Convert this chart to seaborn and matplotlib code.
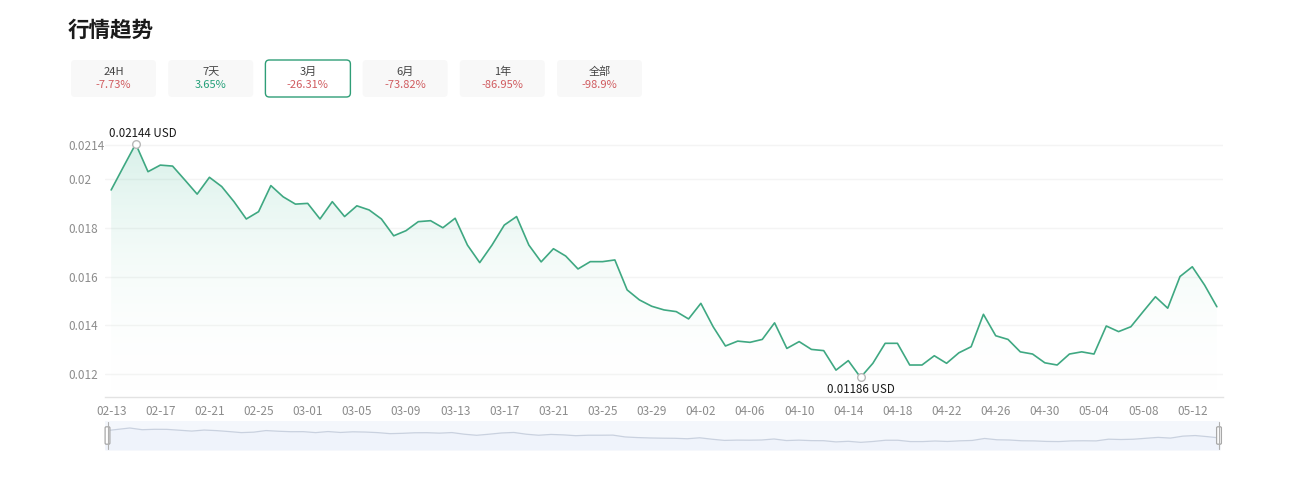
import numpy as np
import pandas as pd
import matplotlib
matplotlib.use("Agg")
import matplotlib.pyplot as plt
import seaborn as sns
from matplotlib.patches import FancyBboxPatch
from matplotlib.colors import LinearSegmentedColormap

# ---------------- data ----------------
start_date = "2025-02-13"
prices = [
    0.01955, 0.0205, 0.02144, 0.0203, 0.02057, 0.02053, 0.01996, 0.01938, 0.02007, 0.01969,
    0.01907, 0.01836, 0.01866, 0.01973, 0.01927, 0.01897, 0.0190, 0.01836, 0.01907, 0.01846,
    0.0189, 0.01873, 0.01836, 0.01767, 0.01788, 0.01825, 0.01829, 0.0180, 0.01839, 0.01729,
    0.01657, 0.01729, 0.01811, 0.01846, 0.01729, 0.0166, 0.01714, 0.01684, 0.01631, 0.01661,
    0.01661, 0.01668, 0.01545, 0.01504, 0.01478, 0.01463, 0.01456, 0.01426, 0.0149, 0.01394,
    0.01315, 0.01335, 0.0133, 0.01342, 0.0141, 0.01305, 0.01333, 0.01301, 0.01296, 0.01216,
    0.01255, 0.01186, 0.01244, 0.01326, 0.01326, 0.01237, 0.01237, 0.01275, 0.01244, 0.01287,
    0.01312, 0.01445, 0.01357, 0.01342, 0.01291, 0.01282, 0.01246, 0.01237, 0.01282, 0.01291,
    0.01282, 0.01397, 0.01374, 0.01394, 0.01456, 0.01517, 0.0147, 0.0160, 0.0164, 0.01565,
    0.01476,
]
periods = ["24H", "7天", "3月", "6月", "1年", "全部"]
changes = ["-7.73%", "3.65%", "-26.31%", "-73.82%", "-86.95%", "-98.9%"]
active_period = "3月"
title = "行情趋势"
unit = "USD"
y_ticks = [0.012, 0.014, 0.016, 0.018, 0.02, 0.0214]
y_tick_labels = ["0.012", "0.014", "0.016", "0.018", "0.02", "0.0214"]
label_step = 4

dates = pd.date_range(start_date, periods=len(prices), freq="D")
df = pd.DataFrame({"idx": np.arange(len(prices)), "price": prices,
                   "label": dates.strftime("%m-%d")})

# ---------------- style ----------------
sns.set_theme(style="white")
plt.rcParams["font.family"] = ["Noto Sans CJK SC", "DejaVu Sans"]

W, H = 1300, 492
fig = plt.figure(figsize=(W / 100, H / 100), dpi=100)
fig.patch.set_facecolor("white")

def fx(px):
    return px / W

def fy(py):
    return 1 - py / H

LINE = "#3fa882"
GRAY = "#8c8c8c"
AXIS = "#e3e3e3"

y_lo, y_hi = 0.01107, 0.02144
x_lo, x_hi = -0.5, len(prices) - 0.5

# ---------------- main axes ----------------
top_px, bot_px, left_px, right_px = 143.9, 396.7, 105, 1223
ax = fig.add_axes([fx(left_px), fy(bot_px), fx(right_px) - fx(left_px), (bot_px - top_px) / H])
ax.set_facecolor("white")

# gradient area
poly = ax.fill_between(df["idx"], df["price"], y_lo, color="none", lw=0)
cmap = LinearSegmentedColormap.from_list(
    "g", [(1, 1, 1, 0.0), (0.0, 0.63, 0.43, 0.15)])
grad = np.linspace(1, 0, 256).reshape(-1, 1)
im = ax.imshow(grad, extent=[x_lo, x_hi, y_lo, df["price"].max()], aspect="auto",
               cmap=cmap, vmin=0, vmax=1, origin="upper", zorder=1)
im.set_clip_path(poly.get_paths()[0], transform=ax.transData)

sns.lineplot(data=df, x="idx", y="price", ax=ax, color=LINE, lw=1.2, zorder=3)
for ln in ax.get_lines():
    ln.set_solid_joinstyle("round")

ax.set_xlim(x_lo, x_hi)
ax.set_ylim(y_lo, y_hi)
ax.set_xlabel("")
ax.set_ylabel("")

# grid
for yt in y_ticks:
    ax.axhline(yt, color="#f4f4f4", lw=1, zorder=0)

# y ticks (left aligned labels)
ax.set_yticks(y_ticks)
ax.set_yticklabels(y_tick_labels)
ax.tick_params(axis="y", length=0, pad=26.6, labelsize=8.5, labelcolor=GRAY)
for t in ax.get_yticklabels():
    t.set_horizontalalignment("left")

# x ticks
major = df["idx"][::label_step]
ax.set_xticks(major)
ax.set_xticklabels(df["label"][::label_step])
ax.set_xticks(np.arange(x_lo, x_hi + 0.01, label_step), minor=True)
ax.tick_params(axis="x", which="major", length=0, pad=6, labelsize=8.5, labelcolor=GRAY)
ax.tick_params(axis="x", which="minor", length=4, width=1, color=AXIS, direction="out")

for s in ["top", "right", "left"]:
    ax.spines[s].set_visible(False)
ax.spines["bottom"].set_color(AXIS)
ax.spines["bottom"].set_linewidth(1)

# max / min markers
imax = int(df["price"].idxmax())
imin = int(df["price"].idxmin())
for i, off in [(imax, (5.4, 7.5)), (imin, (0, -8.6))]:
    ax.plot(df["idx"][i], df["price"][i], "o", ms=5.5, mfc="white", mec="#b8b8b8",
            mew=1, zorder=5, clip_on=False)
    ax.annotate(f"{df['price'][i]:.5f} {unit}", (df["idx"][i], df["price"][i]),
                xytext=off, textcoords="offset points", ha="center", va="center",
                fontsize=8.3, color="#1a1a1a", zorder=6, annotation_clip=False)

# ---------------- slider (data zoom) ----------------
sl_l, sl_r, sl_t, sl_b = 105, 1220, 421, 450
axs = fig.add_axes([fx(sl_l), fy(sl_b), fx(sl_r) - fx(sl_l), (sl_b - sl_t) / H])
axs.set_facecolor("#f4f7fc")
px_val = 0.000668  # value per pixel in the mini chart
s_hi = df["price"].max() + 7 * px_val
s_lo = s_hi - (sl_b - sl_t) * px_val
axs.fill_between(df["idx"], df["price"], s_lo, color="#eff3fb", lw=0)
sns.lineplot(data=df, x="idx", y="price", ax=axs, color="#c9d1df", lw=0.9)
axs.set_xlim(df["idx"].min(), df["idx"].max())
axs.set_ylim(s_lo, s_hi)
axs.set_xticks([])
axs.set_yticks([])
axs.set_xlabel("")
axs.set_ylabel("")
for s in axs.spines.values():
    s.set_visible(False)

# ---------------- overlay (header + handles) ----------------
ov = fig.add_axes([0, 0, 1, 1], zorder=10)
ov.set_xlim(0, W)
ov.set_ylim(H, 0)
ov.axis("off")
ov.patch.set_alpha(0)

ov.text(68, 30, title, fontsize=15.5, fontweight="bold", color="#1a1a1a",
        ha="left", va="center")

bx0, bw, bstep, bt, bb = 71, 85, 97.2, 60, 97
for k, (p, c) in enumerate(zip(periods, changes)):
    x0 = bx0 + k * bstep
    is_active = p == active_period
    box = FancyBboxPatch((x0 + 4, bt + 4), bw - 8, bb - bt - 8,
                         boxstyle="round,pad=4",
                         fc="white" if is_active else "#f8f8f8",
                         ec="#2f9e77" if is_active else "none", lw=1.0)
    ov.add_patch(box)
    ov.text(x0 + bw / 2, 72, p, fontsize=8, color="#444444", ha="center", va="center")
    col = "#d05b5f" if c.startswith("-") else "#23a079"
    ov.text(x0 + bw / 2, 85, c, fontsize=8, color=col, ha="center", va="center")

# slider handles
for hx in (sl_l + 2.5, sl_r - 1):
    ov.plot([hx, hx], [sl_t + 1, sl_b - 1], color="#b0b0b0", lw=0.8)
    ov.add_patch(FancyBboxPatch((hx - 1.2, sl_t + 7), 2.4, sl_b - sl_t - 14,
                                boxstyle="round,pad=1.2", fc="white", ec="#a8a8a8", lw=0.9))

fig.savefig("out.png", dpi=100, facecolor="white")
